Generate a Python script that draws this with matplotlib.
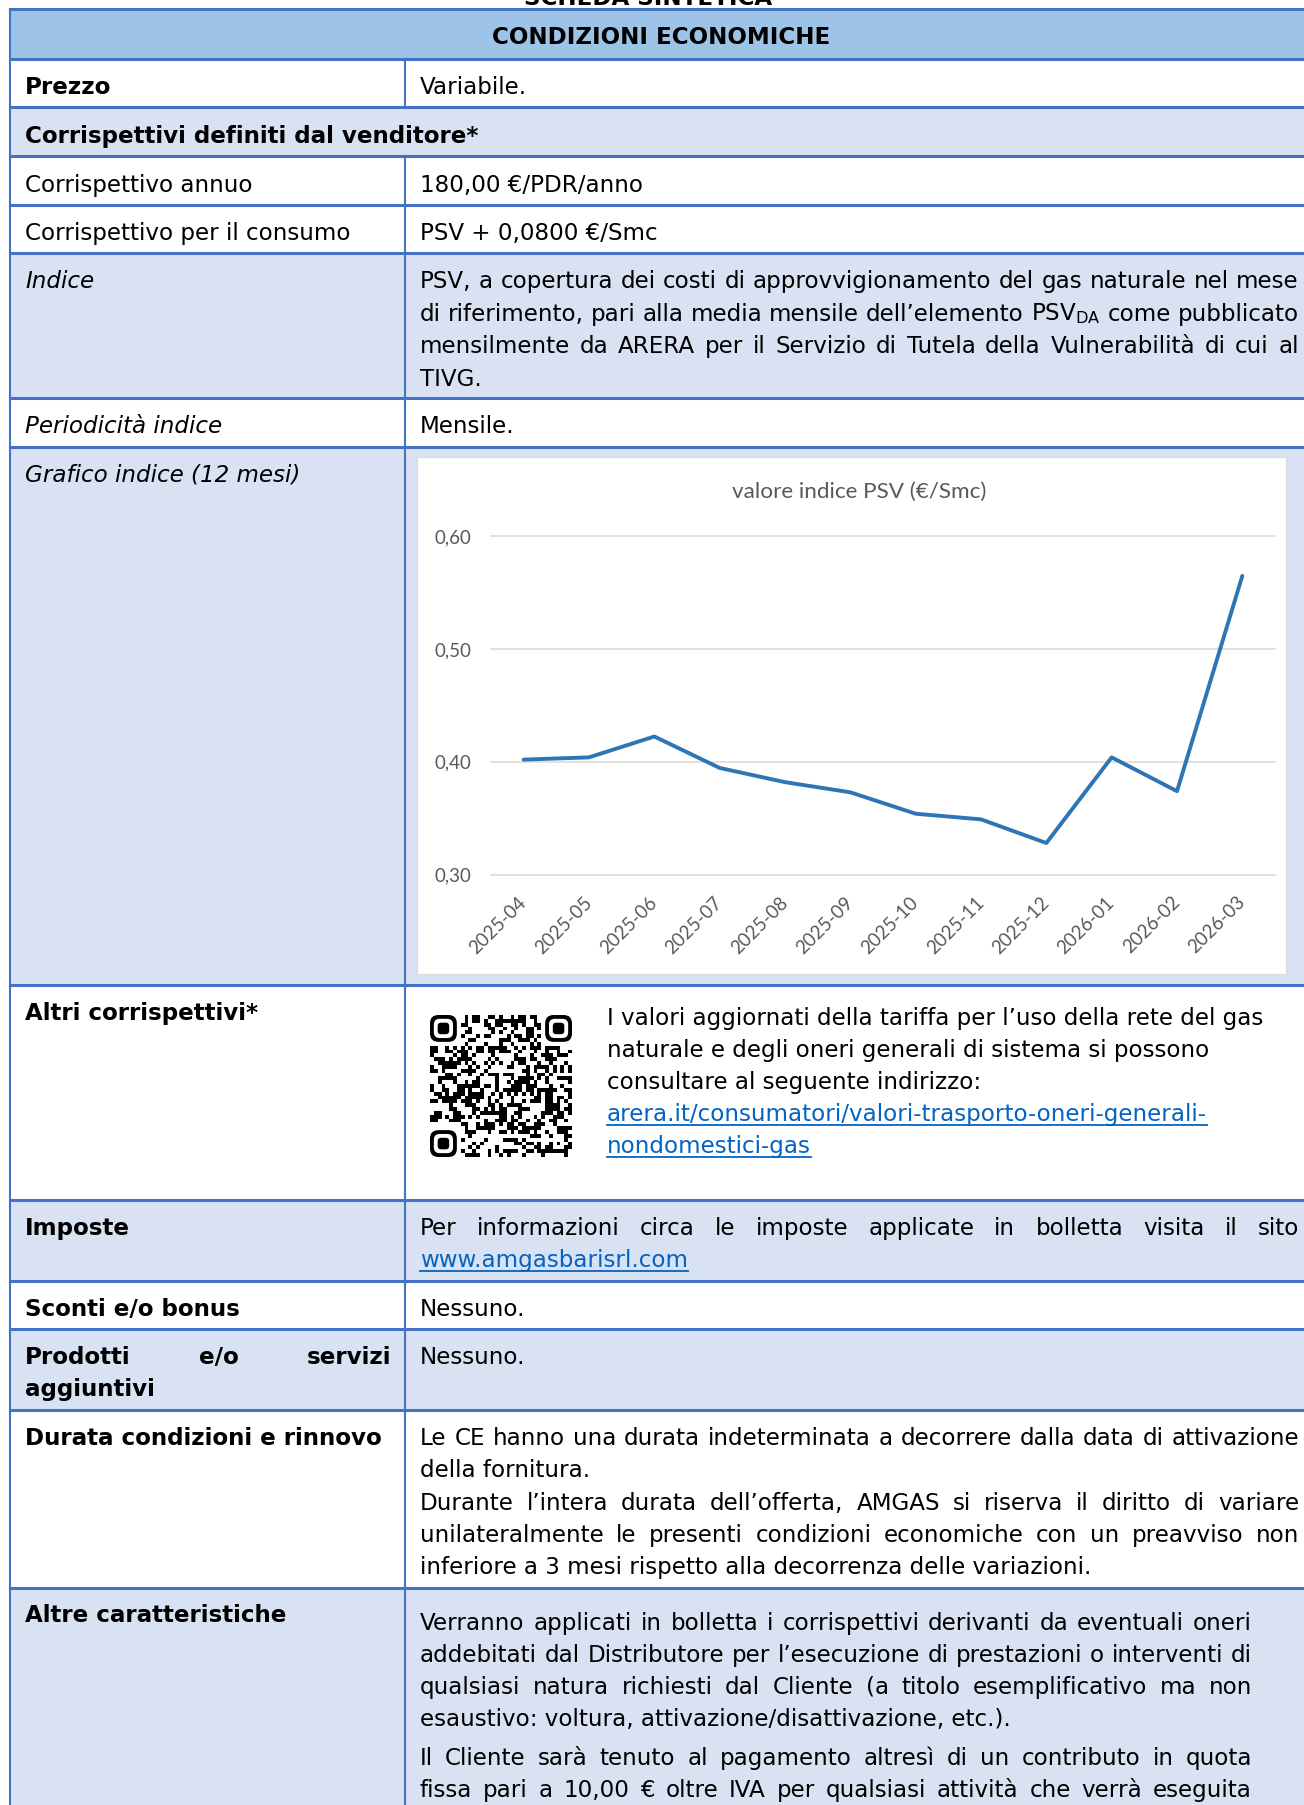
import matplotlib
matplotlib.use("Agg")
import matplotlib.pyplot as plt
from matplotlib.patches import Rectangle, FancyBboxPatch
import numpy as np

# ====== dati del grafico ======
mesi = ["2025-04", "2025-05", "2025-06", "2025-07", "2025-08", "2025-09",
        "2025-10", "2025-11", "2025-12", "2026-01", "2026-02", "2026-03"]
psv = [0.402, 0.404, 0.4225, 0.3946, 0.382, 0.373,
       0.354, 0.349, 0.328, 0.404, 0.374, 0.565]
y_ticks = [0.30, 0.40, 0.50, 0.60]
titolo_grafico = "valore indice PSV (€/Smc)"

# ====== testi della scheda ======
righe_indice = [
    "PSV, a copertura dei costi di approvvigionamento del gas naturale nel mese",
    r"di riferimento, pari alla media mensile dell’elemento PSV$_{\mathrm{DA}}$ come pubblicato",
    "mensilmente da ARERA per il Servizio di Tutela della Vulnerabilità di cui al",
    "TIVG.",
]
righe_qr = [
    "I valori aggiornati della tariffa per l’uso della rete del gas",
    "naturale e degli oneri generali di sistema si possono",
    "consultare al seguente indirizzo:",
]
link_qr = ["arera.it/consumatori/valori-trasporto-oneri-generali-", "nondomestici-gas"]
righe_durata = [
    "Le CE hanno una durata indeterminata a decorrere dalla data di attivazione",
    "della fornitura.",
    "Durante l’intera durata dell’offerta, AMGAS si riserva il diritto di variare",
    "unilateralmente le presenti condizioni economiche con un preavviso non",
    "inferiore a 3 mesi rispetto alla decorrenza delle variazioni.",
]
giust_durata = [True, False, True, True, False]
righe_altre = [
    "Verranno applicati in bolletta i corrispettivi derivanti da eventuali oneri",
    "addebitati dal Distributore per l’esecuzione di prestazioni o interventi di",
    "qualsiasi natura richiesti dal Cliente (a titolo esemplificativo ma non",
    "esaustivo: voltura, attivazione/disattivazione, etc.).",
    "Il Cliente sarà tenuto al pagamento altresì di un contributo in quota",
    "fissa pari a 10,00 € oltre IVA per qualsiasi attività che verrà eseguita",
]
giust_altre = [True, True, True, False, True, True]
base_altre = [1630, 1662, 1694, 1726, 1765, 1797]

W, H = 1304, 1805
BORDO = "#4472C4"
HEADER = "#9DC3E6"
CHIARO = "#D9E2F3"
LINK = "#0563C1"
FS = 16.6

plt.rcParams['font.family'] = ['DejaVu Sans']
plt.rcParams['mathtext.fontset'] = 'dejavusans'

fig = plt.figure(figsize=(W / 100, H / 100), dpi=100)
pg = fig.add_axes([0, 0, 1, 1])
pg.axis('off')
rend = fig.canvas.get_renderer()


def testo(x, y, s, **kw):
    kw.setdefault('fontsize', FS)
    kw.setdefault('color', 'black')
    return pg.text(x, y, s, ha='left', va='baseline', zorder=5, **kw)


def larg(t):
    return t.get_window_extent(renderer=rend).width


def riga(x0, x1, y, s, giust=False, **kw):
    # riga giustificata: parole distribuite tra x0 e x1
    if not giust:
        return testo(x0, y, s, **kw)
    parole = s.split(' ')
    ts = [testo(0, y, p, **kw) for p in parole]
    ws = [larg(t) for t in ts]
    gap = (x1 - x0 - sum(ws)) / (len(ts) - 1)
    x = x0
    for t, w in zip(ts, ws):
        t.set_x(x)
        x += w + gap


def link(x, y, s):
    t = testo(x, y, s, color=LINK)
    pg.plot([x, x + larg(t)], [y + 4, y + 4], color=LINK, lw=1.3, zorder=5)


# ====== sfondi delle righe ======
righe_y = [9, 59, 107, 156, 205, 253, 398, 447, 985, 1200, 1281, 1329, 1410, 1588, 1805]
colori = [HEADER, 'white', CHIARO, 'white', 'white', CHIARO, 'white', CHIARO,
          'white', CHIARO, 'white', CHIARO, 'white', CHIARO]
for (y0, y1), c in zip(zip(righe_y[:-1], righe_y[1:]), colori):
    pg.add_patch(Rectangle((10, y0), W - 10, y1 - y0, facecolor=c, edgecolor='none', zorder=0))

# ====== bordi ======
for y in righe_y[:-1]:
    pg.plot([10, W], [y, y], color=BORDO, lw=2.2, zorder=2)
pg.plot([10, 10], [9, H], color=BORDO, lw=1.5, zorder=2)
pg.plot([405, 405], [59, 107], color=BORDO, lw=1.5, zorder=2)
pg.plot([405, 405], [156, H], color=BORDO, lw=1.5, zorder=2)

# ====== intestazione ======
pg.text(648, 5, "SCHEDA SINTETICA", fontsize=FS, fontweight='bold', ha='center', va='baseline')
pg.text(661, 44, "CONDIZIONI ECONOMICHE", fontsize=FS, fontweight='bold', ha='center', va='baseline')

# ====== righe della tabella ======
XL, XB, XR = 25, 420, 1299
testo(XL, 94, "Prezzo", fontweight='bold')
testo(XB, 94, "Variabile.")
testo(XL, 143, "Corrispettivi definiti dal venditore*", fontweight='bold')
testo(XL, 192, "Corrispettivo annuo")
testo(XB, 192, "180,00 €/PDR/anno")
testo(XL, 240, "Corrispettivo per il consumo")
testo(XB, 240, "PSV + 0,0800 €/Smc")
testo(XL, 288, "Indice", style='italic')
for i, s in enumerate(righe_indice):
    riga(XB, XR, 288 + 32.6 * i, s, giust=i < 3)
testo(XL, 433, "Periodicità indice", style='italic')
testo(XB, 433, "Mensile.")
testo(XL, 482, "Grafico indice (12 mesi)", style='italic')

testo(XL, 1020, "Altri corrispettivi*", fontweight='bold')
for i, s in enumerate(righe_qr):
    testo(607, 1025 + 32 * i, s)
for i, s in enumerate(link_qr):
    link(607, 1025 + 32 * (i + 3), s)

testo(XL, 1235, "Imposte", fontweight='bold')
riga(XB, XR, 1235, "Per informazioni circa le imposte applicate in bolletta visita il sito", giust=True)
link(XB, 1267, "www.amgasbarisrl.com")

testo(XL, 1316, "Sconti e/o bonus", fontweight='bold')
testo(XB, 1316, "Nessuno.")

riga(XL, 391, 1364, "Prodotti e/o servizi", giust=True, fontweight='bold')
testo(XL, 1396, "aggiuntivi", fontweight='bold')
testo(XB, 1364, "Nessuno.")

testo(XL, 1445, "Durata condizioni e rinnovo", fontweight='bold')
for i, (s, g) in enumerate(zip(righe_durata, giust_durata)):
    riga(XB, XR, 1445 + 32.3 * i, s, giust=g)

testo(XL, 1622, "Altre caratteristiche", fontweight='bold')
for s, g, y in zip(righe_altre, giust_altre, base_altre):
    riga(XB, 1252, y, s, giust=g)

# ====== codice QR (solo decorativo) ======
n = 37
qr = np.zeros((n, n))
for i in range(n):
    for j in range(n):
        h = ((i * 73856093) ^ (j * 19349663) ^ (i * j * 83492791)) & 0xFFFF
        qr[i, j] = 1 if (h % 100) < 47 else 0
for (r, c) in [(0, 0), (0, n - 8), (n - 8, 0)]:
    qr[r:r + 8, c:c + 8] = 0
qx0, qy0, qs = 430, 1015, 142
pg.imshow(qr, cmap='gray_r', extent=(qx0, qx0 + qs, qy0 + qs, qy0),
          interpolation='nearest', zorder=3, aspect='auto', vmin=0, vmax=1)
m = qs / n
for (r, c) in [(0, 0), (0, n - 7), (n - 7, 0)]:
    x, y = qx0 + c * m, qy0 + r * m
    pg.add_patch(FancyBboxPatch((x, y), 7 * m, 7 * m, boxstyle="round,pad=0,rounding_size=%f" % (2.2 * m),
                                facecolor='black', edgecolor='none', zorder=4))
    pg.add_patch(FancyBboxPatch((x + m, y + m), 5 * m, 5 * m, boxstyle="round,pad=0,rounding_size=%f" % (1.5 * m),
                                facecolor='white', edgecolor='none', zorder=4))
    pg.add_patch(FancyBboxPatch((x + 2 * m, y + 2 * m), 3 * m, 3 * m, boxstyle="round,pad=0,rounding_size=%f" % (0.9 * m),
                                facecolor='black', edgecolor='none', zorder=4))

# ====== riquadro del grafico ======
pg.add_patch(Rectangle((417, 457), 1286 - 417, 974 - 457, facecolor='white',
                       edgecolor='#D9D9D9', lw=0.8, zorder=1))
pg.text(859, 492, titolo_grafico, fontsize=16.2, color='#595959', ha='center', va='center',
        family=['Lato', 'DejaVu Sans'])

pg.set_xlim(0, W)
pg.set_ylim(H, 0)


def box(x0, y0, x1, y1):
    return [x0 / W, 1 - y1 / H, (x1 - x0) / W, (y1 - y0) / H]


ax = fig.add_axes(box(491, 536.4, 1275, 874.6))
ax.patch.set_alpha(0)
xs = np.arange(len(mesi))
ax.plot(xs, psv, color='#2E75B6', lw=2.8, solid_joinstyle='round', solid_capstyle='round', zorder=3)
ax.set_xlim(-0.5, len(mesi) - 0.5)
ax.set_ylim(0.30, 0.60)
ax.set_yticks(y_ticks)
ax.set_yticklabels([f"{v:.2f}".replace('.', ',') for v in y_ticks])
ax.set_xticks(xs)
ax.set_xticklabels(mesi, rotation=45, ha='right', va='center', rotation_mode='anchor')
ax.grid(axis='y', color='#D9D9D9', lw=1.1)
for g in ax.get_ygridlines():
    g.set_clip_on(False)
ax.set_axisbelow(True)
for s in ax.spines.values():
    s.set_visible(False)
ax.tick_params(length=0, colors='#595959', labelsize=13.5)
ax.tick_params(axis='y', pad=14)
ax.tick_params(axis='x', pad=18)
for lab in ax.get_xticklabels() + ax.get_yticklabels():
    lab.set_family(['Lato', 'DejaVu Sans'])

fig.savefig("out.png", dpi=100)
